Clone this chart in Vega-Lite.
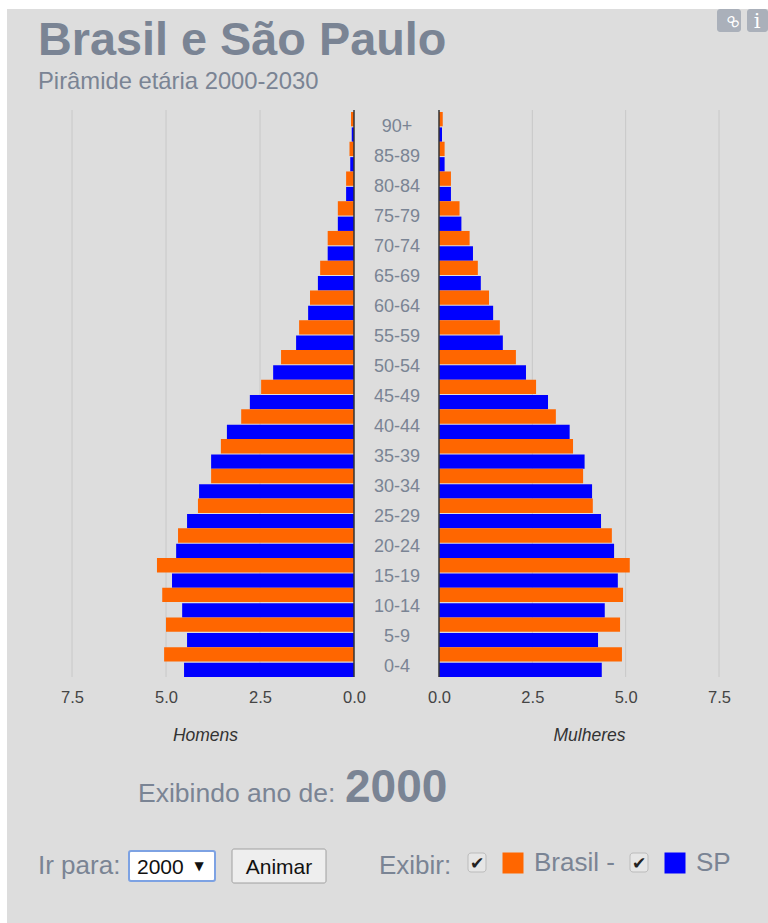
{
"$schema":"https://vega.github.io/schema/vega-lite/v6.json",
"width":768,"height":677,"padding":0,
"autosize":{"type":"pad"},
"background":"#ffffff",
"config":{"view":{"stroke":null},"font":"Liberation Sans","text":{"baseline":"alphabetic"}},
"datasets":{
"piramide":[
{"idade":"90+","serie":"Brasil","Homens":0.08,"Mulheres":0.1},{"idade":"90+","serie":"SP","Homens":0.06,"Mulheres":0.08},
{"idade":"85-89","serie":"Brasil","Homens":0.12,"Mulheres":0.15},{"idade":"85-89","serie":"SP","Homens":0.1,"Mulheres":0.15},
{"idade":"80-84","serie":"Brasil","Homens":0.21,"Mulheres":0.32},{"idade":"80-84","serie":"SP","Homens":0.21,"Mulheres":0.32},
{"idade":"75-79","serie":"Brasil","Homens":0.43,"Mulheres":0.55},{"idade":"75-79","serie":"SP","Homens":0.43,"Mulheres":0.6},
{"idade":"70-74","serie":"Brasil","Homens":0.7,"Mulheres":0.82},{"idade":"70-74","serie":"SP","Homens":0.7,"Mulheres":0.91},
{"idade":"65-69","serie":"Brasil","Homens":0.9,"Mulheres":1.04},{"idade":"65-69","serie":"SP","Homens":0.96,"Mulheres":1.12},
{"idade":"60-64","serie":"Brasil","Homens":1.17,"Mulheres":1.34},{"idade":"60-64","serie":"SP","Homens":1.22,"Mulheres":1.45},
{"idade":"55-59","serie":"Brasil","Homens":1.46,"Mulheres":1.63},{"idade":"55-59","serie":"SP","Homens":1.54,"Mulheres":1.71},
{"idade":"50-54","serie":"Brasil","Homens":1.94,"Mulheres":2.06},{"idade":"50-54","serie":"SP","Homens":2.15,"Mulheres":2.33},
{"idade":"45-49","serie":"Brasil","Homens":2.47,"Mulheres":2.6},{"idade":"45-49","serie":"SP","Homens":2.77,"Mulheres":2.92},
{"idade":"40-44","serie":"Brasil","Homens":3.0,"Mulheres":3.13},{"idade":"40-44","serie":"SP","Homens":3.38,"Mulheres":3.5},
{"idade":"35-39","serie":"Brasil","Homens":3.54,"Mulheres":3.59},{"idade":"35-39","serie":"SP","Homens":3.8,"Mulheres":3.9},
{"idade":"30-34","serie":"Brasil","Homens":3.8,"Mulheres":3.86},{"idade":"30-34","serie":"SP","Homens":4.12,"Mulheres":4.1},
{"idade":"25-29","serie":"Brasil","Homens":4.15,"Mulheres":4.12},{"idade":"25-29","serie":"SP","Homens":4.44,"Mulheres":4.34},
{"idade":"20-24","serie":"Brasil","Homens":4.68,"Mulheres":4.63},{"idade":"20-24","serie":"SP","Homens":4.73,"Mulheres":4.69},
{"idade":"15-19","serie":"Brasil","Homens":5.24,"Mulheres":5.11},{"idade":"15-19","serie":"SP","Homens":4.84,"Mulheres":4.79},
{"idade":"10-14","serie":"Brasil","Homens":5.1,"Mulheres":4.93},{"idade":"10-14","serie":"SP","Homens":4.57,"Mulheres":4.44},
{"idade":"5-9","serie":"Brasil","Homens":5.0,"Mulheres":4.85},{"idade":"5-9","serie":"SP","Homens":4.44,"Mulheres":4.26},
{"idade":"0-4","serie":"Brasil","Homens":5.05,"Mulheres":4.9},{"idade":"0-4","serie":"SP","Homens":4.52,"Mulheres":4.36}
],
"marcas":[{"valor":2.5},{"valor":5},{"valor":7.5}],
"um":[{"n":1}]
},
"data":{"name":"piramide"},
"resolve":{"scale":{"x":"independent","y":"independent"},"axis":{"x":"independent"}},
"layer":[
{"data":{"name":"um"},"mark":{"type":"rect","color":"#dddddd"},"encoding":{"x":{"value":7},"x2":{"value":768},"y":{"value":9},"y2":{"value":923}}},
{"data":{"name":"marcas"},"mark":{"type":"rule","color":"#c8c8c8","strokeWidth":1},"encoding":{"x":{"field":"valor","type":"quantitative","scale":{"domain":[0,7.5],"range":[354,72],"nice":false},"axis":null},"y":{"value":110},"y2":{"value":677}}},
{"data":{"name":"marcas"},"mark":{"type":"rule","color":"#c8c8c8","strokeWidth":1},"encoding":{"x":{"field":"valor","type":"quantitative","scale":{"domain":[0,7.5],"range":[439,719],"nice":false},"axis":null},"y":{"value":110},"y2":{"value":677}}},
{"mark":{"type":"bar"},"encoding":{
"x":{"field":"Homens","type":"quantitative","stack":null,"scale":{"domain":[0,7.5],"range":[354,72],"nice":false},
"axis":{"orient":"bottom","zindex":1,"values":[0,2.5,5,7.5],"format":".1f","grid":false,"domain":false,"ticks":false,"labelFlush":false,"labelPadding":12,"labelFontSize":16.5,"labelColor":"#444444","labelFont":"Liberation Sans","title":"Homens","titleFont":"Liberation Sans","titleFontStyle":"italic","titleFontWeight":"normal","titleFontSize":17.5,"titleColor":"#333333","titleX":205,"titleY":49}},
"y":{"field":"idade","type":"nominal","axis":null,"sort":null,"scale":{"domain":["90+","85-89","80-84","75-79","70-74","65-69","60-64","55-59","50-54","45-49","40-44","35-39","30-34","25-29","20-24","15-19","10-14","5-9","0-4"],"range":[112,677],"paddingInner":0,"paddingOuter":0}},
"yOffset":{"field":"serie","type":"nominal","scale":{"domain":["Brasil","SP"],"paddingInner":0.07}},
"color":{"field":"serie","type":"nominal","scale":{"domain":["Brasil","SP"],"range":["#ff6600","#0000ff"]},
"legend":{"orient":"none","legendX":500,"legendY":850,"direction":"horizontal","columns":2,"title":null,"symbolType":"square","symbolSize":441,"symbolStrokeWidth":0,"symbolOpacity":1,"labelFontSize":26,"labelFont":"Liberation Sans","labelColor":"#7a8494","labelOffset":8,"columnPadding":47,"labelExpr":"datum.label=='Brasil'?'Brasil -':'SP'"}}
}},
{"mark":{"type":"bar"},"encoding":{
"x":{"field":"Mulheres","type":"quantitative","stack":null,"scale":{"domain":[0,7.5],"range":[439,719],"nice":false},
"axis":{"orient":"bottom","zindex":1,"values":[0,2.5,5,7.5],"format":".1f","grid":false,"domain":false,"ticks":false,"labelFlush":false,"labelPadding":12,"labelFontSize":16.5,"labelColor":"#444444","labelFont":"Liberation Sans","title":"Mulheres","titleFont":"Liberation Sans","titleFontStyle":"italic","titleFontWeight":"normal","titleFontSize":17.5,"titleColor":"#333333","titleX":589,"titleY":49}},
"y":{"field":"idade","type":"nominal","axis":null,"sort":null,"scale":{"domain":["90+","85-89","80-84","75-79","70-74","65-69","60-64","55-59","50-54","45-49","40-44","35-39","30-34","25-29","20-24","15-19","10-14","5-9","0-4"],"range":[112,677],"paddingInner":0,"paddingOuter":0}},
"yOffset":{"field":"serie","type":"nominal","scale":{"domain":["Brasil","SP"],"paddingInner":0.07}},
"color":{"field":"serie","type":"nominal","scale":{"domain":["Brasil","SP"],"range":["#ff6600","#0000ff"]}}
}},
{"data":{"name":"um"},"mark":{"type":"rule","color":"#333333","strokeWidth":1.5},"encoding":{"x":{"datum":0,"type":"quantitative","scale":{"domain":[0,7.5],"range":[354,72],"nice":false},"axis":null},"y":{"value":110},"y2":{"value":677}}},
{"data":{"name":"um"},"mark":{"type":"rule","color":"#333333","strokeWidth":1.5},"encoding":{"x":{"datum":0,"type":"quantitative","scale":{"domain":[0,7.5],"range":[439,719],"nice":false},"axis":null},"y":{"value":110},"y2":{"value":677}}},
{"transform":[{"filter":"datum.serie=='Brasil'"}],"mark":{"type":"text","x":397,"fontSize":18,"font":"Liberation Sans","color":"#7a8494","align":"center","baseline":"middle"},"encoding":{"text":{"field":"idade"},"y":{"field":"idade","type":"nominal","axis":null,"sort":null,"scale":{"domain":["90+","85-89","80-84","75-79","70-74","65-69","60-64","55-59","50-54","45-49","40-44","35-39","30-34","25-29","20-24","15-19","10-14","5-9","0-4"],"range":[112,682],"paddingInner":0,"paddingOuter":0}}}},
{"data":{"name":"um"},"mark":{"type":"text","x":38,"y":55,"baseline":"alphabetic","text":"Brasil e São Paulo","fontSize":46.8,"fontWeight":"bold","font":"Liberation Sans","color":"#7a8494","align":"left"}},
{"data":{"name":"um"},"mark":{"type":"text","x":38,"y":89,"baseline":"alphabetic","text":"Pirâmide etária 2000-2030","fontSize":23.8,"font":"Liberation Sans","color":"#7a8494","align":"left"}},
{"data":{"name":"um"},"mark":{"type":"text","x":138,"y":802,"baseline":"alphabetic","text":"Exibindo ano de:","fontSize":26.5,"font":"Liberation Sans","color":"#7a8494","align":"left"}},
{"data":{"name":"um"},"mark":{"type":"text","x":345,"y":802,"baseline":"alphabetic","text":"2000","fontSize":46,"fontWeight":"bold","font":"Liberation Sans","color":"#7a8494","align":"left"}},
{"data":{"name":"um"},"mark":{"type":"text","x":38,"y":874,"baseline":"alphabetic","text":"Ir para:","fontSize":26,"font":"Liberation Sans","color":"#7a8494","align":"left"}},
{"data":{"name":"um"},"mark":{"type":"text","x":379,"y":874,"baseline":"alphabetic","text":"Exibir:","fontSize":26,"font":"Liberation Sans","color":"#7a8494","align":"left"}},
{"data":{"name":"um"},"mark":{"type":"rect","color":"#ffffff","stroke":"#7da2e3","strokeWidth":2,"cornerRadius":2},"encoding":{"x":{"value":129},"x2":{"value":215},"y":{"value":851},"y2":{"value":881}}},
{"data":{"name":"um"},"mark":{"type":"text","x":137,"y":874,"baseline":"alphabetic","text":"2000","fontSize":21,"font":"Liberation Sans","color":"#111111","align":"left"}},
{"data":{"name":"um"},"mark":{"type":"text","x":199,"y":870,"baseline":"alphabetic","text":"▼","fontSize":12,"font":"DejaVu Sans","color":"#111111","align":"center"}},
{"data":{"name":"um"},"mark":{"type":"rect","color":"#eeeeee","stroke":"#a0a0a0","strokeWidth":1,"cornerRadius":2},"encoding":{"x":{"value":232},"x2":{"value":326},"y":{"value":849},"y2":{"value":883}}},
{"data":{"name":"um"},"mark":{"type":"text","x":279,"y":874,"baseline":"alphabetic","text":"Animar","fontSize":21,"font":"Liberation Sans","color":"#111111","align":"center"}},
{"data":{"name":"um"},"mark":{"type":"rect","color":"#e6e6e6","stroke":"#bbbbbb","strokeWidth":1,"cornerRadius":3},"encoding":{"x":{"value":468},"x2":{"value":486},"y":{"value":853},"y2":{"value":872}}},
{"data":{"name":"um"},"mark":{"type":"text","x":477,"y":869,"baseline":"alphabetic","text":"✔","fontSize":17,"font":"DejaVu Sans","color":"#222222","align":"center"}},
{"data":{"name":"um"},"mark":{"type":"rect","color":"#e6e6e6","stroke":"#bbbbbb","strokeWidth":1,"cornerRadius":3},"encoding":{"x":{"value":630},"x2":{"value":648},"y":{"value":853},"y2":{"value":872}}},
{"data":{"name":"um"},"mark":{"type":"text","x":639,"y":869,"baseline":"alphabetic","text":"✔","fontSize":17,"font":"DejaVu Sans","color":"#222222","align":"center"}},
{"data":{"name":"um"},"mark":{"type":"rect","color":"#aab0ba","cornerRadius":3},"encoding":{"x":{"value":717},"x2":{"value":741},"y":{"value":9},"y2":{"value":32}}},
{"data":{"name":"um"},"mark":{"type":"text","x":729,"y":26,"baseline":"alphabetic","text":"∞","fontSize":20,"font":"DejaVu Sans","color":"#ffffff","align":"center","angle":45}},
{"data":{"name":"um"},"mark":{"type":"rect","color":"#aab0ba","cornerRadius":3},"encoding":{"x":{"value":747},"x2":{"value":768},"y":{"value":9},"y2":{"value":32}}},
{"data":{"name":"um"},"mark":{"type":"text","x":757,"y":28,"baseline":"alphabetic","text":"i","fontSize":21,"font":"DejaVu Serif","color":"#ffffff","align":"center"}}
]
}
